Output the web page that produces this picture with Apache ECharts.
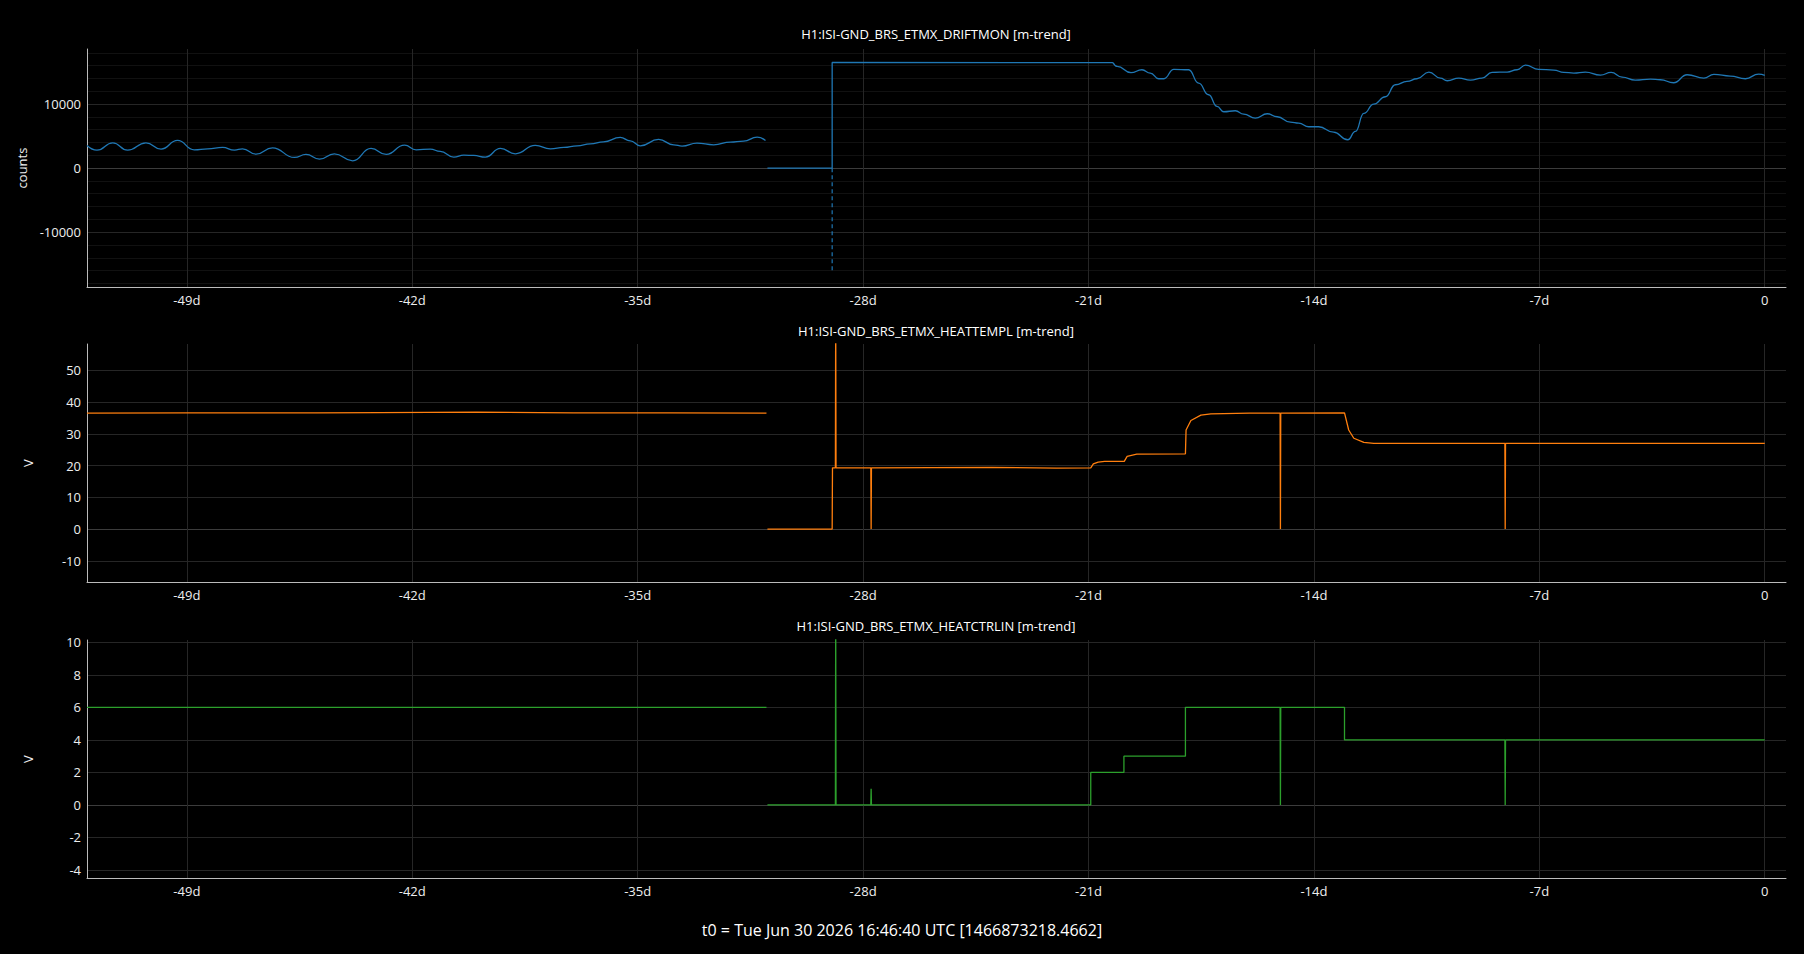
<!DOCTYPE html>
<html>
<head>
<meta charset="utf-8">
<script src="https://cdn.jsdelivr.net/npm/echarts@6/dist/echarts.min.js"></script>
<style>
html,body{margin:0;padding:0;background:#000;}
#chart{width:1804px;height:954px;}
</style>
</head>
<body>
<div id="chart"></div>
<script>
// ---------- text ----------
const panelTitles = [
  'H1:ISI-GND_BRS_ETMX_DRIFTMON [m-trend]',
  'H1:ISI-GND_BRS_ETMX_HEATTEMPL [m-trend]',
  'H1:ISI-GND_BRS_ETMX_HEATCTRLIN [m-trend]'
];
const yNames = ['counts', 'V', 'V'];
const footer = 't0 = Tue Jun 30 2026 16:46:40 UTC [1466873218.4662]';

// ---------- ticks (x in days relative to t0) ----------
const xTicks = [-49, -42, -35, -28, -21, -14, -7, 0];
const xRange = [-52.1, 0.66];
const y1Ticks = [-10000, 0, 10000];
const y1Minor = [-18000, -16000, -14000, -12000, -8000, -6000, -4000, -2000,
                 2000, 4000, 6000, 8000, 12000, 14000, 16000, 18000];
const y1Range = [-18560, 18600];
const y2Ticks = [-10, 0, 10, 20, 30, 40, 50];
const y2Range = [-16.67, 58.28];
const y3Ticks = [-4, -2, 0, 2, 4, 6, 8, 10];
const y3Range = [-4.49, 10.14];

// ---------- DRIFTMON (counts) ----------
const driftLeftDays = [-52.10,-51.79,-51.30,-50.84,-50.27,-49.80,-49.29,-48.77,-48.35,-47.89,-47.52,-47.27,
  -46.85,-46.34,-45.66,-45.30,-44.88,-44.42,-43.85,-43.28,-42.81,-42.24,-41.88,-41.44,-41.13,-40.71,-40.40,
  -40.09,-39.73,-39.26,-38.80,-38.18,-37.71,-37.29,-36.88,-36.47,-36.06,-35.54,-35.23,-34.92,-34.35,-33.88,
  -33.62,-33.16,-32.64,-32.12,-31.71,-31.29,-31.03];
const driftLeftVals = [3541,2812,3958,2812,3958,2969,4323,2864,3020,3229,2812,3020,
  2187,3177,1667,2135,1406,2239,1146,3073,2135,3594,2864,2969,2604,1719,2031,
  1979,1719,3073,2239,3541,3020,3229,3489,3802,4114,4791,4270,3489,4479,3646,
  3437,3906,3646,4062,4218,4843,4323];
const driftStepDays = [-30.97, -28.96, -28.96, -20.24];
const driftStepVals = [0, 0, 16500, 16480];
const driftMinDays = [-28.96, -28.96];
const driftMinVals = [0, -16300];
const driftRightDays = [-20.24,-20.11,-19.68,-19.34,-19.08,-18.82,-18.66,-18.35,-17.89,-17.58,-17.27,-17.01,
  -16.80,-16.44,-16.18,-15.82,-15.45,-15.14,-14.73,-14.47,-14.16,-13.85,-13.39,-12.95,-12.71,-12.45,-12.14,
  -11.78,-11.47,-11.11,-10.80,-10.43,-10.07,-9.86,-9.50,-9.14,-8.78,-8.47,-8.00,-7.69,-7.43,-7.02,-6.55,
  -6.24,-5.93,-5.57,-5.10,-4.77,-4.43,-4.02,-3.55,-3.24,-2.83,-2.41,-1.89,-1.58,-1.07,-0.60,-0.19,0.00];
const driftRightVals = [16480,15885,14896,15364,14844,13958,13958,15416,15364,13281,11458,9635,
  8802,8958,8437,7812,8490,8021,7188,7031,6458,6458,5625,4427,5729,8542,10000,
  11146,13021,13542,13958,15000,14040,13646,14062,13750,14062,14948,15000,15364,16094,15416,15312,
  14948,14844,15000,14531,14948,14219,13750,13906,13802,13333,14583,14062,14635,14375,13958,14687,14479];

// ---------- HEATTEMPL (V) ----------
const tempLeftDays = [-52.10,-49.0,-45.0,-43.0,-40.0,-37.0,-34.0,-31.0];
const tempLeftVals = [36.5,36.6,36.6,36.7,36.8,36.6,36.6,36.5];
const tempRightDays = [-30.97,-28.96,-28.95,-28.86,-28.85,-28.84,-27.76,-27.75,-27.74,-24.0,-22.0,-20.93,
  -20.85,-20.70,-20.50,-19.89,-19.80,-19.50,-17.99,-17.97,-17.82,-17.51,-17.20,-16.0,-15.05,-15.04,-15.03,
  -13.05,-12.92,-12.76,-12.45,-12.14,-8.07,-8.06,-8.05,0.00];
const tempRightVals = [0,0,19.3,19.3,70,19.3,19.3,0,19.3,19.4,19.2,19.3,
  20.5,21.1,21.3,21.3,22.9,23.6,23.7,31.2,34.2,35.9,36.3,36.5,36.5,0,36.5,
  36.6,31.2,28.6,27.3,27.0,27.0,0,27.0,27.0];

// ---------- HEATCTRLIN (V) ----------
const ctrlLeftDays = [-52.10, -31.0];
const ctrlLeftVals = [6, 6];
const ctrlRightDays = [-30.97,-28.86,-28.85,-28.84,-27.76,-27.75,-27.74,-20.93,-20.93,-19.90,-19.90,-17.99,
  -17.99,-15.05,-15.04,-15.03,-13.05,-13.05,-8.07,-8.06,-8.05,0.00];
const ctrlRightVals = [0,0,12,0,0,1.0,0,0,2,2,3,3,
  6,6,0,6,6,4,4,0,4,4];

// ---------- styling ----------
const BLUE = '#1f77b4', ORANGE = '#ff7f0e', GREEN = '#2ca02c';
const FONT = '"Open Sans", "Noto Sans", sans-serif';
const TEXT = '#eeeeee';
const GRID_C = '#262626', MINOR_C = '#111111', ZERO_C = '#3c3c3c', AXIS_C = '#bbbbbb';

const zip = (xs, ys) => xs.map((x, i) => [x, ys[i]]);
const gridTops = [49, 344, 640];
const gridH = 238;

const xAxes = gridTops.map((t, i) => ({
  type: 'value', gridIndex: i, min: xRange[0], max: xRange[1],
  axisLine: { show: true, onZero: false, lineStyle: { color: AXIS_C, width: 1 } },
  axisTick: { show: false, customValues: xTicks },
  axisLabel: {
    customValues: xTicks, color: TEXT, fontFamily: FONT, fontSize: 13, margin: 6,
    formatter: v => (v === 0 ? '0' : v + 'd')
  },
  splitLine: { show: true, lineStyle: { color: GRID_C, width: 1 } }
}));

function yAxis(gi, range, ticks, name) {
  return {
    type: 'value', gridIndex: gi, min: range[0], max: range[1], position: 'left',
    name: name, nameLocation: 'middle', nameGap: 53, nameRotate: 90,
    nameTextStyle: { color: TEXT, fontFamily: FONT, fontSize: 13 },
    axisLine: { show: true, onZero: false, lineStyle: { color: AXIS_C, width: 1 } },
    axisTick: { show: false, customValues: ticks },
    axisLabel: { customValues: ticks, color: TEXT, fontFamily: FONT, fontSize: 13, margin: 6,
                 formatter: v => String(v) },
    splitLine: { show: true, lineStyle: { color: ticks.map(v => (v === 0 ? ZERO_C : GRID_C)), width: 1 } }
  };
}
const yAxes = [
  yAxis(0, y1Range, y1Ticks, yNames[0]),
  {
    type: 'value', gridIndex: 0, min: y1Range[0], max: y1Range[1], position: 'left', z: 0,
    axisLine: { show: false, onZero: false }, axisTick: { show: false, customValues: y1Minor },
    axisLabel: { show: false, customValues: y1Minor },
    splitLine: { show: true, lineStyle: { color: MINOR_C, width: 1 } }
  },
  yAxis(1, y2Range, y2Ticks, yNames[1]),
  yAxis(2, y3Range, y3Ticks, yNames[2])
];

function line(data, xi, yi, color, opts) {
  return Object.assign({
    type: 'line', xAxisIndex: xi, yAxisIndex: yi, data: data,
    showSymbol: false, symbol: 'none', clip: true, animation: false,
    lineStyle: { color: color, width: 1.3 }, itemStyle: { color: color }
  }, opts || {});
}

const series = [
  line(zip(driftLeftDays, driftLeftVals), 0, 0, BLUE, { smooth: 0.5, smoothMonotone: 'x' }),
  line(zip(driftStepDays, driftStepVals), 0, 0, BLUE),
  line(zip(driftMinDays, driftMinVals), 0, 0, BLUE, { lineStyle: { color: BLUE, width: 1.2, type: [4, 3] } }),
  line(zip(driftRightDays, driftRightVals), 0, 0, BLUE, { smooth: 0.5, smoothMonotone: 'x' }),
  line(zip(tempLeftDays, tempLeftVals), 1, 2, ORANGE),
  line(zip(tempRightDays, tempRightVals), 1, 2, ORANGE),
  line(zip(ctrlLeftDays, ctrlLeftVals), 2, 3, GREEN),
  line(zip(ctrlRightDays, ctrlRightVals), 2, 3, GREEN)
];

const graphics = panelTitles.map((t, i) => ({
  type: 'text', x: 936, y: [34, 331, 626][i],
  style: { text: t, fill: '#ffffff', font: '13px ' + FONT, align: 'center', verticalAlign: 'middle' }
}));
graphics.push({
  type: 'text', x: 902, y: 930,
  style: { text: footer, fill: '#ffffff', font: '16px ' + FONT, align: 'center', verticalAlign: 'middle' }
});

const chart = echarts.init(document.getElementById('chart'), null, { renderer: 'svg', width: 1804, height: 954 });
chart.setOption({
  backgroundColor: '#000000',
  animation: false,
  grid: gridTops.map(t => ({ left: 87, right: 18, top: t, height: gridH, containLabel: false })),
  xAxis: xAxes,
  yAxis: yAxes,
  series: series,
  graphic: graphics
});
</script>
</body>
</html>
